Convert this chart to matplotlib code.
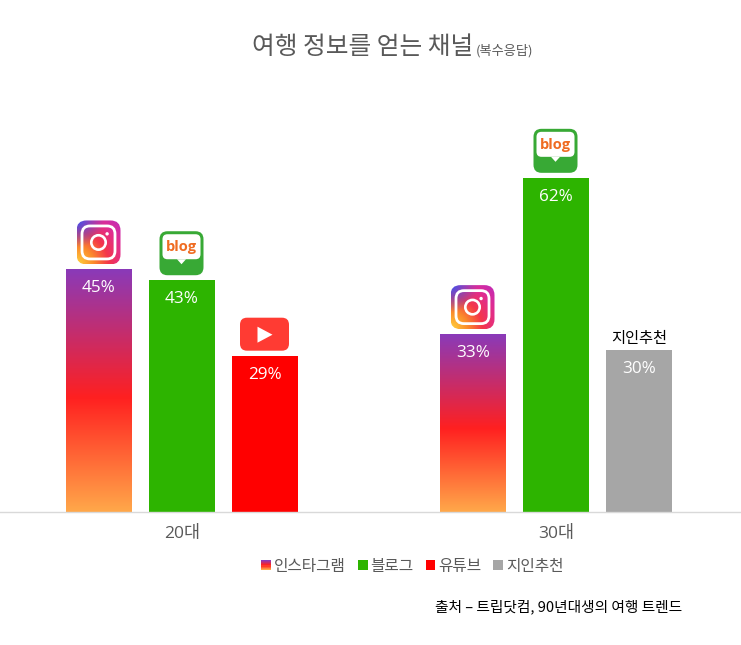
import numpy as np
import matplotlib
matplotlib.use("Agg")
import matplotlib.pyplot as plt
from matplotlib.colors import LinearSegmentedColormap, to_rgb
from matplotlib.patches import FancyBboxPatch, Rectangle, Circle, Polygon
from matplotlib.legend_handler import HandlerBase

plt.rcParams['font.family'] = ['Noto Sans CJK KR', 'DejaVu Sans']

categories = ['20대', '30대']
series_names = ['인스타그램', '블로그', '유튜브', '지인추천']
instagram = [45, 33]
blog = [43, 62]
youtube = [29, None]
referral = [None, 30]
title = '여행 정보를 얻는 채널'
subtitle = '(복수응답)'
source = '출처 – 트립닷컴, 90년대생의 여행 트렌드'
series_values = [instagram, blog, youtube, referral]

W, H = 741, 645
BASE_Y, PX_PER_PCT = 512, 5.39
GROUP_STEP, BAR_W, BAR_STEP, FIRST_C = 374, 66, 83, 182
GREY = '#595959'
C_BLOG, C_YT, C_REF = '#2db400', '#ff0000', '#a6a6a6'
insta_cmap = LinearSegmentedColormap.from_list(
    'insta', [(0, '#8a3ab9'), (0.53, '#ff2020'), (1, '#ffa84a')])
logo_cmap = LinearSegmentedColormap.from_list(
    'logo', [(0, '#ffd23c'), (0.28, '#fb8a2c'), (0.52, '#f4364a'), (0.78, '#e02c92'), (1, '#c02bb8')])

LATIN_KR = ['Open Sans', 'Noto Sans CJK KR']

fig = plt.figure(figsize=(W / 100, H / 100), dpi=100, facecolor='white')
ax = fig.add_axes([0, (H - BASE_Y) / H, 1, BASE_Y / H])
ax.set_xlim(-FIRST_C / GROUP_STEP, (W - FIRST_C) / GROUP_STEP)
ax.set_ylim(0, BASE_Y / PX_PER_PCT)
ax.patch.set_alpha(0)
for s in ['left', 'right', 'top']:
    ax.spines[s].set_visible(False)
ax.spines['bottom'].set_color('#d9d9d9')
ax.spines['bottom'].set_linewidth(1)
ax.set_yticks([])
ax.set_xticks(range(len(categories)), categories, color=GREY, fontsize=12.5, family=LATIN_KR)
ax.tick_params(axis='x', length=0, pad=10)

# overlay in pixel units, for the small logos that sit on top of bars
ov = fig.add_axes([0, 0, 1, 1], zorder=5)
ov.set_xlim(0, W)
ov.set_ylim(H, 0)
ov.axis('off')
ov.patch.set_alpha(0)


def icon_instagram(cx, bottom):
    s = 44
    l, t = cx - s / 2, bottom - s
    n = 88
    u, v = np.meshgrid(np.linspace(0, 1, n), np.linspace(0, 1, n))
    d = np.clip(np.hypot(u, 1 - v) / 1.38, 0, 1)
    img = logo_cmap(d)[..., :3]
    blue = np.array(to_rgb('#4052ee'))
    wt = np.clip(1 - np.hypot(u, v) / 0.62, 0, 1)[..., None]
    img = img * (1 - wt) + blue * wt
    im = ov.imshow(img, extent=[l, l + s, t + s, t], aspect='auto', zorder=5, interpolation='bilinear')
    clip = FancyBboxPatch((l + 9, t + 9), s - 18, s - 18, boxstyle='round,pad=9,rounding_size=10',
                          fc='none', ec='none', transform=ov.transData)
    ov.add_patch(clip)
    im.set_clip_path(clip)
    ov.set_xlim(0, W)
    ov.set_ylim(H, 0)
    ov.add_patch(FancyBboxPatch((l + 5.5, t + 5.5), s - 11, s - 11, boxstyle='round,pad=0,rounding_size=8',
                                fc='none', ec='white', lw=2, zorder=6))
    ov.add_patch(Circle((cx, t + s / 2), 7.2, fc='none', ec='white', lw=1.9, zorder=6))
    ov.add_patch(Circle((cx + 8.6, t + s / 2 - 8.6), 1.7, fc='white', ec='none', zorder=6))


def icon_blog(cx, bottom):
    s = 44
    l, t = cx - s / 2, bottom - s
    ov.add_patch(FancyBboxPatch((l + 8, t + 8), s - 16, s - 16, boxstyle='round,pad=8,rounding_size=8',
                                fc='#38a935', ec='none', zorder=5))
    ov.add_patch(FancyBboxPatch((l + 7, t + 7), s - 14, s - 27, boxstyle='round,pad=4,rounding_size=5',
                                fc='white', ec='none', zorder=6))
    ov.add_patch(Polygon([(cx - 4.5, t + 28), (cx + 4.5, t + 28), (cx, t + 33)], fc='white', ec='none', zorder=6))
    ov.text(cx, t + 16, 'blog', color='#ef6c22', fontsize=10.5, fontweight='bold', ha='center', va='center',
            family=['Open Sans'], zorder=7)


def icon_youtube(cx, bottom):
    w, h = 49, 33
    l, t = cx - w / 2, bottom - h
    ov.add_patch(FancyBboxPatch((l + 7, t + 7), w - 14, h - 14, boxstyle='round,pad=7,rounding_size=7',
                                fc='#ff3b33', ec='none', zorder=5))
    ov.add_patch(Polygon([(cx - 7, t + 9), (cx - 7, t + 25), (cx + 8, t + 17)], fc='white', ec='none', zorder=6))


icons = [icon_instagram, icon_blog, icon_youtube, None]
colors = [None, C_BLOG, C_YT, C_REF]

for g in range(len(categories)):
    present = [i for i, vals in enumerate(series_values) if vals[g] is not None]
    for j, i in enumerate(present):
        val = series_values[i][g]
        x = g + (j - (len(present) - 1) / 2) * BAR_STEP / GROUP_STEP
        w = BAR_W / GROUP_STEP
        if colors[i] is None:
            b = ax.bar(x, val, w, color='none', zorder=2)[0]
            grad = np.linspace(0, 1, 256)[:, None]
            im = ax.imshow(grad, cmap=insta_cmap, extent=[x - w / 2, x + w / 2, 0, val], origin='upper',
                           aspect='auto', zorder=2)
            im.set_clip_path(b)
            ax.set_xlim(-FIRST_C / GROUP_STEP, (W - FIRST_C) / GROUP_STEP)
            ax.set_ylim(0, BASE_Y / PX_PER_PCT)
        else:
            ax.bar(x, val, w, color=colors[i], zorder=2)
        ax.annotate(f'{val}%', (x, val), xytext=(0, -19 * 0.72), textcoords='offset points',
                    ha='center', va='center', color='white', fontsize=12.3, zorder=4,
                    family=['Open Sans', 'DejaVu Sans'])
        px, py = ax.transData.transform((x, val))
        cx, top = px - 0.5, H - py
        if icons[i] is not None:
            icons[i](cx, top - 5)
        else:
            ax.annotate(series_names[i], (x, val), xytext=(0, 12 * 0.72), textcoords='offset points',
                        ha='center', va='center', color='black', fontsize=11, zorder=4)


class StripeHandler(HandlerBase):
    def create_artists(self, legend, orig, xd, yd, width, height, fontsize, trans):
        n = 9
        arts = []
        for k in range(n):
            arts.append(Rectangle((-xd, -yd + height * (n - 1 - k) / n), width, height / n * 1.05,
                                  fc=insta_cmap(k / (n - 1)), ec='none', transform=trans))
        return arts


handles = [Rectangle((0, 0), 1, 1, label=series_names[0], fc=insta_cmap(0.5))] + \
          [Rectangle((0, 0), 1, 1, fc=c, ec='none', label=n) for c, n in zip(colors[1:], series_names[1:])]
leg = fig.legend(handles=handles, loc='center', bbox_to_anchor=(412.5 / W, 1 - 566 / H), ncol=4, frameon=False,
                 fontsize=11.3, labelcolor=GREY, handlelength=0.62, handleheight=0.62, handletextpad=0.2,
                 columnspacing=0.75, borderpad=0,
                 handler_map={handles[0]: StripeHandler()})

fig.text(252 / W, 1 - 47.5 / H, title, color=GREY, fontsize=17.8, ha='left', va='center')
fig.text(475.5 / W, 1 - 51 / H, subtitle, color=GREY, fontsize=9.5, ha='left', va='center')
fig.text(682 / W, 1 - 607 / H, source, color='black', fontsize=10.6, ha='right', va='center')

fig.savefig('out.png', dpi=100)
